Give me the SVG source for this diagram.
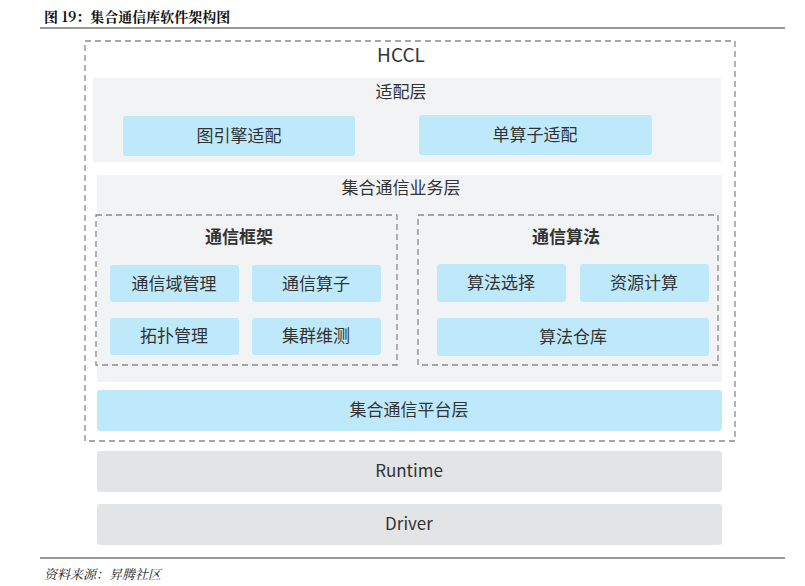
<svg xmlns="http://www.w3.org/2000/svg" width="805" height="586" viewBox="0 0 805 586">
<style>
.t{font-family:"Noto Sans CJK SC","Noto Sans",sans-serif;font-size:17px;fill:#333;text-anchor:middle;dominant-baseline:central;transform:translateY(-2px)}
.b{font-weight:bold}
.g{fill:#f2f3f5}
.bl{fill:#bee9fa}
.gr{fill:#e3e4e6}
.d{fill:none;stroke:#8a8a8a;stroke-width:1.3;stroke-dasharray:6 4}
</style>
<rect width="805" height="586" fill="#fff"/>
<text x="44" y="16" font-family="Noto Serif CJK SC,Liberation Serif,Noto Sans CJK SC,serif" font-size="14" font-weight="bold" fill="#111" dominant-baseline="central">图 19：集合通信库软件架构图</text>
<line x1="40" y1="28" x2="785" y2="28" stroke="#333" stroke-width="1.2"/>
<g id="hccl"><rect x="85" y="41" width="650" height="400" class="d"/><text class="t" x="401" y="55" style="font-size:19px">HCCL</text></g>
<g id="adapt"><rect x="93" y="78" width="628" height="84" class="g"/><text class="t" x="401" y="92">适配层</text></g>
<g id="n1"><rect x="123" y="116" width="232" height="40" rx="3" class="bl"/><text class="t" x="239" y="136">图引擎适配</text></g>
<g id="n2"><rect x="419" y="115" width="233" height="40" rx="3" class="bl"/><text class="t" x="535" y="135">单算子适配</text></g>
<g id="svc"><rect x="97" y="175" width="625" height="207" class="g"/><text class="t" x="401" y="188">集合通信业务层</text></g>
<g id="fw"><rect x="96" y="215" width="301" height="150" class="d"/><text class="t b" x="239" y="237">通信框架</text></g>
<g id="alg"><rect x="418" y="215" width="300" height="150" class="d"/><text class="t b" x="566" y="237">通信算法</text></g>
<g id="n3"><rect x="110" y="265" width="129" height="37" rx="3" class="bl"/><text class="t" x="174" y="284">通信域管理</text></g>
<g id="n4"><rect x="252" y="265" width="129" height="37" rx="3" class="bl"/><text class="t" x="316" y="284">通信算子</text></g>
<g id="n5"><rect x="110" y="318" width="129" height="37" rx="3" class="bl"/><text class="t" x="174" y="336">拓扑管理</text></g>
<g id="n6"><rect x="252" y="318" width="129" height="37" rx="3" class="bl"/><text class="t" x="316" y="336">集群维测</text></g>
<g id="n7"><rect x="437" y="264" width="129" height="38" rx="3" class="bl"/><text class="t" x="501" y="283">算法选择</text></g>
<g id="n8"><rect x="580" y="264" width="129" height="38" rx="3" class="bl"/><text class="t" x="644" y="283">资源计算</text></g>
<g id="n9"><rect x="437" y="318" width="272" height="38" rx="3" class="bl"/><text class="t" x="573" y="337">算法仓库</text></g>
<g id="plat"><rect x="97" y="390" width="625" height="41" rx="3" class="bl"/><text class="t" x="409" y="410">集合通信平台层</text></g>
<g id="rt"><rect x="97" y="451" width="625" height="41" rx="3" class="gr"/><text class="t" x="409" y="471">Runtime</text></g>
<g id="dr"><rect x="97" y="504" width="625" height="41" rx="3" class="gr"/><text class="t" x="409" y="524">Driver</text></g>
<g id="connectors"/>
<line x1="40" y1="558" x2="785" y2="558" stroke="#333" stroke-width="1.2"/>
<text x="44" y="573" font-family="Noto Serif CJK SC,Liberation Serif,Noto Sans CJK SC,serif" font-size="13" font-style="italic" fill="#222" dominant-baseline="central">资料来源：昇腾社区</text>
</svg>
